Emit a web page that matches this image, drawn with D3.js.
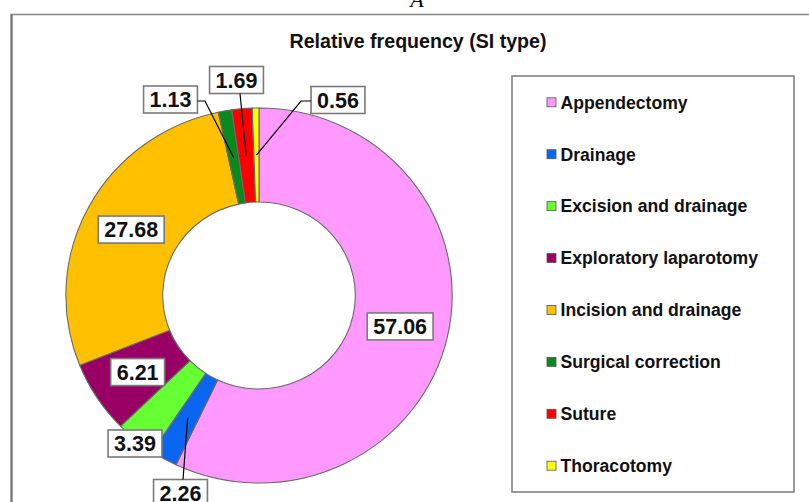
<!DOCTYPE html>
<html>
<head>
<meta charset="utf-8">
<script src="https://cdn.jsdelivr.net/npm/d3@7"></script>
<style>
  html, body { margin: 0; padding: 0; background: #fff; }
  svg { display: block; font-family: "Liberation Sans", Arial, sans-serif; }
</style>
</head>
<body>
<svg id="chart" width="809" height="502"></svg>
<script>
// ---- data ----
const categories = ["Appendectomy", "Drainage", "Excision and drainage", "Exploratory laparotomy",
                    "Incision and drainage", "Surgical correction", "Suture", "Thoracotomy"];
const values = [57.06, 2.26, 3.39, 6.21, 27.68, 1.13, 1.69, 0.56];
const valueLabels = ["57.06", "2.26", "3.39", "6.21", "27.68", "1.13", "1.69", "0.56"];
const colors = ["#FF99FF", "#0A66F0", "#66FF33", "#990066", "#FFC000", "#0A8A1E", "#FF0000", "#FFFF00"];
const chartTitle = "Relative frequency (SI type)";
const panelLetter = "A";

// ---- layout (annotation placement, not data) ----
// label placement: null = slice centroid, otherwise box centre; elbow = leader bend point
const labelLayout = [
  null,
  { x: 180.5, y: 493, leader: true, elbow: null, edge: "top" },
  { x: 135, y: 443.5, leader: false },
  null,
  null,
  { x: 170.5, y: 99.5, leader: true, elbow: [205, 101], edge: "right" },
  { x: 236.5, y: 80, leader: true, elbow: null, edge: "bottom" },
  { x: 338, y: 100, leader: true, elbow: [301, 101], edge: "left" }
];

const svg = d3.select("#chart");
const W = 809, H = 502;

// outer frame
svg.append("rect").attr("x", 11.5).attr("y", 14.5).attr("width", 830).attr("height", 520)
  .attr("fill", "none").attr("stroke", "#8a8a8a").attr("stroke-width", 1.6);
svg.append("line").attr("x1", 11.5).attr("x2", 11.5).attr("y1", 14).attr("y2", H)
  .attr("stroke", "#7a7a7a").attr("stroke-width", 2.2);

// panel letter (cut at top)
svg.append("text").attr("x", 417).attr("y", 7).attr("text-anchor", "middle")
  .attr("font-family", "'Liberation Serif', 'DejaVu Serif', serif").attr("font-style", "italic")
  .attr("font-size", 22).attr("fill", "#000").text(panelLetter);

// title
svg.append("text").attr("x", 418).attr("y", 47.5).attr("text-anchor", "middle")
  .attr("font-weight", "bold").attr("font-size", 19.6).attr("fill", "#111").text(chartTitle);

// donut
const cx = 259, cy = 295.5, R = 187.5, r = 93.5, sx = 1.03;
const pie = d3.pie().sort(null).value(d => d)(values);
const arc = d3.arc().innerRadius(r).outerRadius(R);
const g = svg.append("g").attr("transform", `translate(${cx},${cy}) scale(${sx},1)`);
g.selectAll("path").data(pie).join("path")
  .attr("d", arc)
  .attr("fill", (d, i) => colors[i])
  .attr("stroke", "#6a6a6a").attr("stroke-width", 1.1)
  .attr("vector-effect", "non-scaling-stroke");

function centroid(d) {
  const c = arc.centroid(d);
  return [cx + c[0] * sx, cy + c[1]];
}

// labels
const lab = svg.append("g");
pie.forEach((d, i) => {
  const L = labelLayout[i];
  const c = centroid(d);
  const pos = L ? [L.x, L.y] : c;
  const gg = lab.append("g");
  const t = gg.append("text").attr("x", pos[0]).attr("y", pos[1] + 7.7)
    .attr("text-anchor", "middle").attr("font-weight", "bold")
    .attr("font-size", 21.5).attr("fill", "#111").text(valueLabels[i]);
  const bb = t.node().getBBox();
  const bw = bb.width + 12, bh = 27;
  gg.insert("rect", "text").attr("x", pos[0] - bw / 2).attr("y", pos[1] - bh / 2)
    .attr("width", bw).attr("height", bh)
    .attr("fill", "#fff").attr("stroke", "#7a7a7a").attr("stroke-width", 1.6);
  if (L && L.leader) {
    let end;
    if (L.edge === "top") end = [pos[0] + 2.5, pos[1] - bh / 2];
    else if (L.edge === "bottom") end = [pos[0] + 3.5, pos[1] + bh / 2];
    else if (L.edge === "right") end = [pos[0] + bw / 2, L.elbow[1]];
    else end = [pos[0] - bw / 2, L.elbow[1]];
    const pts = [c];
    if (L.elbow) pts.push(L.elbow);
    pts.push(end);
    lab.append("path").attr("d", d3.line()(pts))
      .attr("fill", "none").attr("stroke", "#000").attr("stroke-width", 1.2);
  }
});

// legend
svg.append("rect").attr("x", 512).attr("y", 76).attr("width", 282).attr("height", 416)
  .attr("fill", "#fff").attr("stroke", "#808080").attr("stroke-width", 1.6);
const leg = svg.append("g");
const rowY = d3.scalePoint().domain(categories).range([102.3, 465.7]);
categories.forEach((c, i) => {
  const y = rowY(c);
  leg.append("rect").attr("x", 547).attr("y", y - 4.5).attr("width", 9).attr("height", 9)
    .attr("fill", colors[i]).attr("stroke", "#555").attr("stroke-width", 0.8);
  leg.append("text").attr("x", 560.5).attr("y", y + 6.3)
    .attr("font-weight", "bold").attr("font-size", 17.6).attr("fill", "#111").text(c);
});
</script>
</body>
</html>
